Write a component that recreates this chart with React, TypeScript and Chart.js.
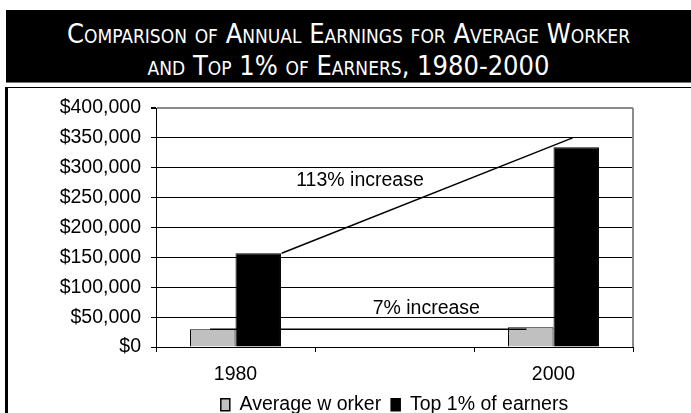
import React, { useEffect, useRef } from "react";
import { Chart, registerables } from "chart.js";

Chart.register(...registerables);

const categories: string[] = ["1980", "", "2000"];
const averageWorker: (number | null)[] = [29600, null, 33000];
const topOnePercent: (number | null)[] = [157000, null, 334500];
const seriesNames: string[] = ["Average w orker", "Top 1% of earners"];

// annotation lines (x in category units spanning 0..3, y in dollars)
const increaseLineTopX: number[] = [0.79, 2.62];
const increaseLineTopY: number[] = [157000, 350000];
const increaseLineAvgX: number[] = [0.34, 2.33];
const increaseLineAvgY: number[] = [29600, 29600];
const annotationTexts: string[] = ["113% increase", "7% increase"];
const annotationX: number[] = [1.283, 1.7];
const annotationY: number[] = [277800, 63600];

const yMin = 0;
const yMax = 400000;
const yStep = 50000;

const FONT = "'Liberation Sans', Arial, sans-serif";

const plotFrame = {
  id: "plotFrame",
  beforeDatasetsDraw(chart: any) {
    const { ctx, chartArea } = chart;
    ctx.save();
    ctx.strokeStyle = "#8a8a8a";
    ctx.lineWidth = 2;
    ctx.beginPath();
    ctx.moveTo(chartArea.right, chartArea.top);
    ctx.lineTo(chartArea.right, chartArea.bottom);
    ctx.stroke();
    ctx.restore();
  },
};

const annotations = {
  id: "annotations",
  afterDatasetsDraw(chart: any) {
    const { ctx, scales } = chart;
    const sx = scales.x2;
    const sy = scales.y;
    ctx.save();
    ctx.strokeStyle = "#000";
    ctx.lineWidth = 1.5;
    const drawLine = (xs: number[], ys: number[]) => {
      ctx.beginPath();
      xs.forEach((xv, i) => {
        const px = sx.getPixelForValue(xv);
        const py = sy.getPixelForValue(ys[i]);
        if (i === 0) ctx.moveTo(px, py);
        else ctx.lineTo(px, py);
      });
      ctx.stroke();
    };
    drawLine(increaseLineTopX, increaseLineTopY);
    drawLine(increaseLineAvgX, increaseLineAvgY);
    ctx.fillStyle = "#000";
    ctx.font = `19.5px ${FONT}`;
    ctx.textAlign = "center";
    ctx.textBaseline = "middle";
    annotationTexts.forEach((t, i) => {
      ctx.fillText(t, sx.getPixelForValue(annotationX[i]), sy.getPixelForValue(annotationY[i]));
    });
    ctx.restore();
  },
};

export default function App() {
  const canvasRef = useRef<HTMLCanvasElement | null>(null);

  useEffect(() => {
    if (!canvasRef.current) return;
    const chart = new Chart(canvasRef.current, {
      type: "bar",
      data: {
        labels: categories,
        datasets: [
          {
            label: seriesNames[0],
            data: averageWorker,
            backgroundColor: "#c0c0c0",
            borderColor: "#000",
            borderWidth: 1,
            xAxisID: "x",
          },
          {
            label: seriesNames[1],
            data: topOnePercent,
            backgroundColor: "#000",
            borderColor: "#000",
            borderWidth: 1,
            xAxisID: "x",
          },
        ],
      },
      options: {
        animation: false,
        responsive: false,
        maintainAspectRatio: false,
        devicePixelRatio: 1,
        layout: { padding: { left: 0, right: 58, top: 108, bottom: 5.5 } },
        datasets: {
          bar: { categoryPercentage: 0.572, barPercentage: 1 },
        },
        scales: {
          x: {
            type: "category",
            offset: true,
            grid: {
              offset: true,
              drawOnChartArea: false,
              drawTicks: true,
              tickLength: 5,
              color: "#000",
            },
            border: { display: true, color: "#000", width: 1 },
            ticks: {
              color: "#000",
              font: { family: FONT, size: 19.5 },
              padding: 11,
              maxRotation: 0,
              autoSkip: false,
            },
            afterFit: (scale: any) => {
              scale.height = 38;
            },
          },
          x2: {
            type: "linear",
            display: false,
            offset: false,
            grid: { offset: false },
            min: 0,
            max: 3,
          },
          y: {
            min: yMin,
            max: yMax,
            grid: {
              color: (ctx: any) =>
                ctx.tick && ctx.tick.value === yMax ? "#8a8a8a" : "#000",
              lineWidth: (ctx: any) =>
                ctx.tick && ctx.tick.value === yMax ? 2 : 1,
              tickColor: "#000",
              tickLength: 5,
              drawTicks: true,
            },
            border: { display: true, color: "#000", width: 1 },
            ticks: {
              stepSize: yStep,
              color: "#000",
              font: { family: FONT, size: 19.5 },
              padding: 10,
              callback: (v: any) => "$" + Number(v).toLocaleString("en-US"),
            },
            afterFit: (scale: any) => {
              scale.width = 156;
            },
          },
        },
        plugins: {
          title: { display: false },
          tooltip: { enabled: false },
          legend: {
            display: true,
            position: "bottom",
            fullSize: false,
            labels: {
              color: "#000",
              font: { family: FONT, size: 19.5 },
              boxWidth: 9,
              boxHeight: 12,
              padding: 10,
              generateLabels: (c: any) =>
                Chart.defaults.plugins.legend.labels
                  .generateLabels(c)
                  .map((l: any) => ({ ...l, lineWidth: 1.5 })),
            },
          },
        },
      } as any,
      plugins: [plotFrame, annotations],
    });
    return () => chart.destroy();
  }, []);

  return (
    <div
      style={{
        position: "absolute",
        left: 0,
        top: 0,
        width: 691,
        height: 413,
        overflow: "hidden",
        background: "#fff",
      }}
    >
      <div
        style={{
          position: "absolute",
          left: 5,
          top: 87,
          width: 700,
          height: 340,
          borderLeft: "3px solid #000",
          borderTop: "1px solid #000",
          boxSizing: "border-box",
        }}
      />
      <div
        style={{
          position: "absolute",
          left: 6,
          top: 10,
          width: 685,
          height: 73,
          background: "#000",
          borderBottom: "1px solid #777",
          color: "#fff",
          textAlign: "center",
          fontFamily: "'DejaVu Sans Condensed', 'Liberation Sans Narrow', sans-serif",
          fontVariant: "small-caps",
          fontSize: 27,
          lineHeight: "32px",
          paddingTop: 7.6,
          boxSizing: "border-box",
          whiteSpace: "nowrap",
        }}
      >
        <div>Comparison of Annual Earnings for Average Worker</div>
        <div>and Top 1% of Earners, 1980-2000</div>
      </div>
      <canvas
        ref={canvasRef}
        width={691}
        height={430}
        style={{ position: "absolute", left: 0, top: 0, width: 691, height: 430 }}
      />
    </div>
  );
}
